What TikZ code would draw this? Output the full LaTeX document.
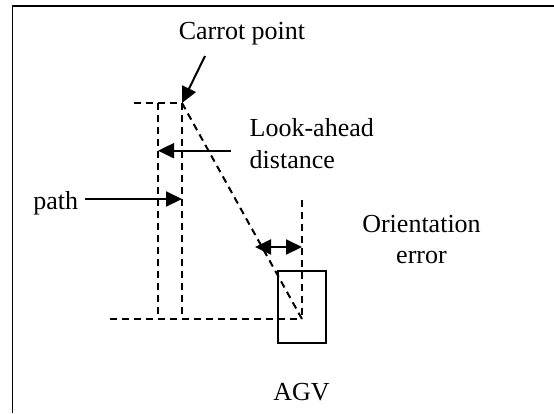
\documentclass[tikz,border=0pt]{standalone}
\usepackage{fontspec}
\setmainfont{Liberation Serif}
\usetikzlibrary{arrows.meta, positioning}

\begin{document}
\begin{tikzpicture}[x=1pt, y=-1pt,
  guide/.style={line width=2pt, dash pattern=on 7pt off 5pt},
  pointer/.style={line width=2pt, -{Triangle[length=16pt, width=15pt]}},
  label/.style={font=\fontsize{26}{31.5}\selectfont, inner sep=0pt}]
  \useasboundingbox (0,0) rectangle (554,413);
  % Frame (cut off at right and bottom)
  \draw[line width=1.6pt] (12.3,413) -- (12.3,6) -- (554,6);
  % Key points
  \coordinate (carrot) at (182,103);
  \coordinate (agv) at (302,319);
  \coordinate (topend) at (133.6,103);
  \coordinate (botend) at (110,319);
  \coordinate (errtop) at (302,200);
  % Labels
  \node[label, anchor=base] (carrottext) at (242,39.5) {Carrot point};
  \node[label, anchor=west, align=left] (looktext) at (249.5,143.4) {Look-ahead\\distance};
  \node[label, anchor=base east] (pathtext) at (78.3,209) {path};
  \node[label, align=center] (errtext) at (421.5,239.6) {Orientation\\error};
  \node[label, anchor=base] (agvtext) at (301.5,400.7) {AGV};
  % AGV body
  \node[draw, line width=2pt, minimum width=48pt, minimum height=72pt, inner sep=0pt] (body) at (301.8,306.7) {};
  % Dashed guides
  \draw[guide] (topend) -- (carrot);
  \draw[guide] (158,103) -- (158,319);
  \draw[guide] (carrot) -- (carrot |- agv);
  \draw[guide] (botend) -- (agv);
  \draw[guide] (carrot) -- (agv);
  \draw[guide] (errtop) -- (agv);
  % Arrows
  \coordinate (carrottail) at (205,56);
  \coordinate (looktail) at (230.7,150.7);
  \coordinate (pathtail) at (85,199);
  \coordinate (errleft) at (255,247);
  \draw[pointer] (carrottail) -- (carrot);
  \draw[pointer] (looktail) -- (158,150.7);
  \draw[pointer] (pathtail) -- (182,199);
  \draw[pointer, {Triangle[length=16pt, width=15pt]}-{Triangle[length=16pt, width=15pt]}] (errleft) -- (errleft -| agv);
\end{tikzpicture}
\end{document}
